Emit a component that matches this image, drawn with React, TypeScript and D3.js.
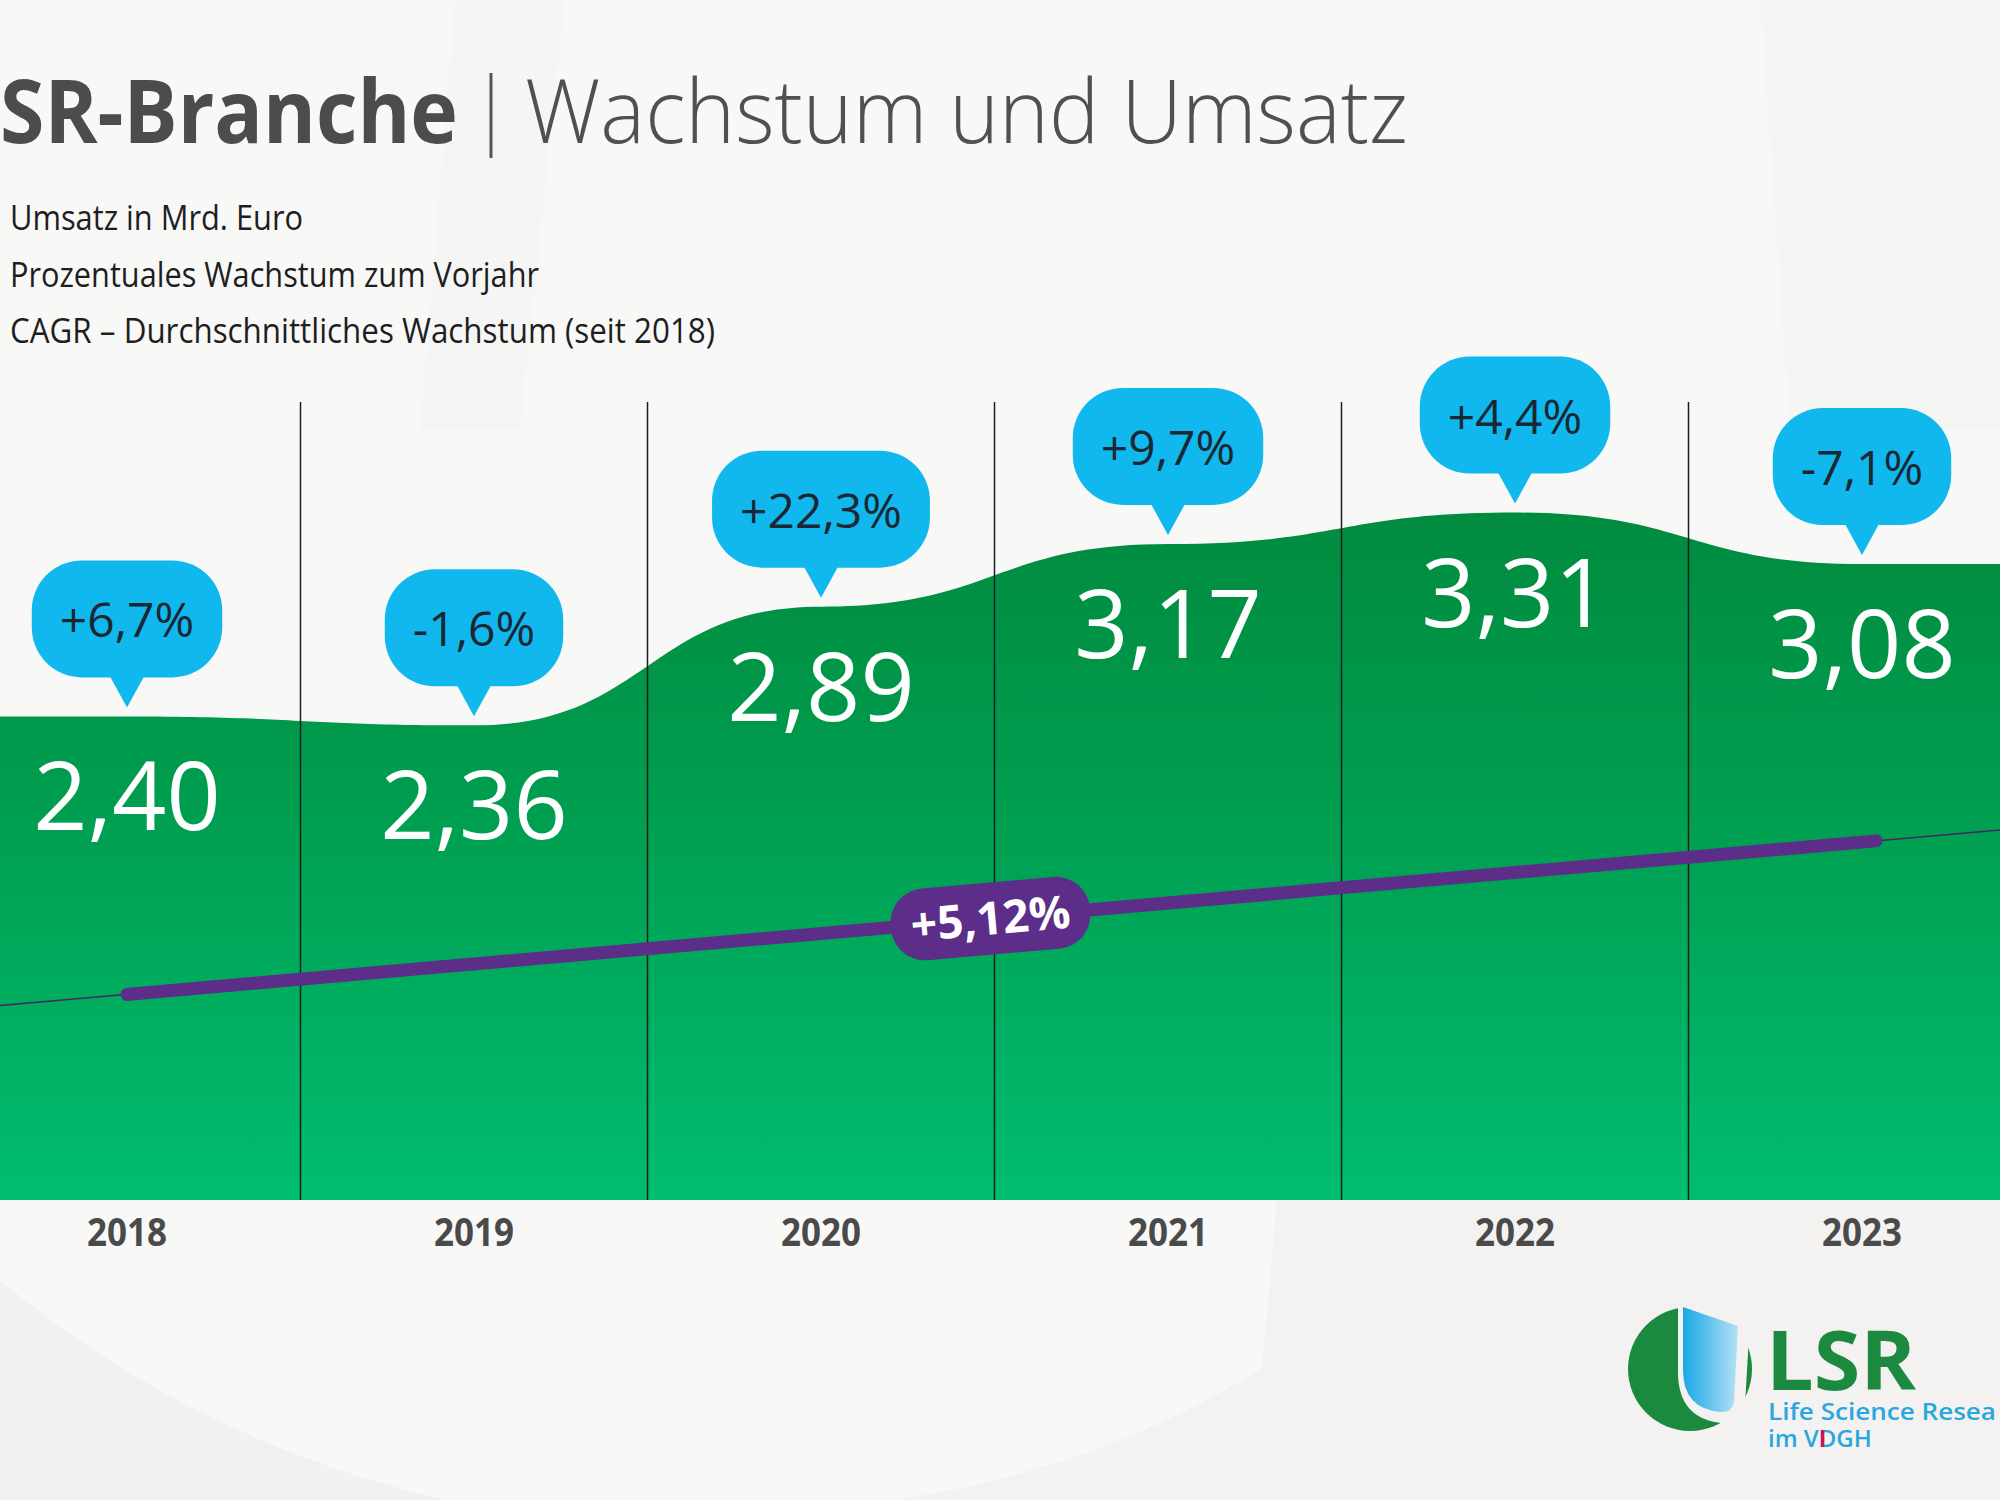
import React from 'react';
import * as d3 from 'd3';

// Revenue of the LSR industry (billion euro) and year-over-year growth
const years = ['2018', '2019', '2020', '2021', '2022', '2023'];
const revenue = [2.4, 2.36, 2.89, 3.17, 3.31, 3.08];
const growthLabels = ['+6,7%', '-1,6%', '+22,3%', '+9,7%', '+4,4%', '-7,1%'];
const cagrLabel = '+5,12%';
const titleBold = 'SR-Branche';
const titleLight = 'Wachstum und Umsatz';
const legendLines = [
  'Umsatz in Mrd. Euro',
  'Prozentuales Wachstum zum Vorjahr',
  'CAGR – Durchschnittliches Wachstum (seit 2018)',
];
const logoLines = ['Life Science Resea', 'im VDGH'];

const W = 2000;
const H = 1500;
const FONT = "'Open Sans', 'Noto Sans', sans-serif";

const de = d3.formatLocale({ decimal: ',', thousands: '.', grouping: [3], currency: ['', ' €'] });
const fmtValue = de.format('.2f');

let measureCtx: CanvasRenderingContext2D | null = null;
function textWidth(s: string, font: string): number {
  if (!measureCtx) measureCtx = document.createElement('canvas').getContext('2d');
  if (!measureCtx) return s.length * 25;
  measureCtx.font = font;
  return measureCtx.measureText(s).width;
}

export default function App() {
  const x = d3.scaleBand<string>().domain(years).range([-46.5, 2035.5]).paddingInner(0).paddingOuter(0);
  const cx = (yr: string) => (x(yr) as number) + x.bandwidth() / 2;
  const y = d3.scaleLinear().domain([2.0, 3.5]).range([806, 470]);
  const baseY = 1200;
  const topY = 402;

  // area outline: flat shoulders out to the band range edges
  const pts: [number, number][] = [
    [x.range()[0], y(revenue[0])],
    ...years.map((yr, i) => [cx(yr), y(revenue[i])] as [number, number]),
    [x.range()[1], y(revenue[revenue.length - 1])],
  ];
  const area = d3
    .area<[number, number]>()
    .x((d) => d[0])
    .y0(baseY)
    .y1((d) => d[1])
    .curve(d3.curveBumpX);

  // CAGR trend from first to last year, drawn lower on the same value scale
  const trendShift = 278;
  const n = revenue.length;
  const cagr = Math.pow(revenue[n - 1] / revenue[0], 1 / (n - 1)) - 1;
  const tStart: [number, number] = [cx(years[0]), y(revenue[0]) + trendShift];
  const tEnd: [number, number] = [cx(years[n - 1]), y(revenue[0] * Math.pow(1 + cagr, n - 1)) + trendShift];
  const slope = (tEnd[1] - tStart[1]) / (tEnd[0] - tStart[0]);
  const lineAt = (px: number) => tStart[1] + (px - tStart[0]) * slope;
  const angle = (Math.atan(slope) * 180) / Math.PI;
  const pillX = (cx(years[2]) + cx(years[3])) / 2 - 4;
  const pillY = lineAt(pillX);

  const bubbleFontSize = 48;
  const bubbleFont = `400 ${bubbleFontSize}px ${FONT}`;

  const logoFont = `600 24px ${FONT}`;
  const dStemX = 1768 + textWidth('im V', logoFont);

  return (
    <svg
      width={W}
      height={H}
      viewBox={`0 0 ${W} ${H}`}
      style={{ position: 'absolute', left: 0, top: 0, display: 'block' }}
      fontFamily={FONT}
    >
      <defs>
        <linearGradient id="areaGrad" gradientUnits="userSpaceOnUse" x1="0" y1="500" x2="0" y2={baseY}>
          <stop offset="0" stopColor="#018a3e" />
          <stop offset="0.45" stopColor="#009e50" />
          <stop offset="1" stopColor="#00bd6f" />
        </linearGradient>
        <linearGradient id="tubeGrad" x1="0" y1="0" x2="1" y2="0">
          <stop offset="0" stopColor="#19a7e6" />
          <stop offset="1" stopColor="#b4e2f5" />
        </linearGradient>
        <mask id="logoCut">
          <rect x="1600" y="1280" width="200" height="200" fill="white" />
          <path
            d="M1683,1300 L1745,1318 L1740,1405 Q1738,1418 1722,1418 Q1683,1414 1683,1372 Z"
            fill="black"
            stroke="black"
            strokeWidth="10"
            strokeLinejoin="round"
          />
        </mask>
      </defs>

      {/* backdrop with soft light shapes */}
      <rect x="0" y="0" width={W} height={H} fill="#f8f8f7" />
      <path d="M455,0 L565,0 L520,430 L420,430 Z" fill="#f4f3f1" opacity="0.6" />
      <path d="M1760,0 L2000,0 L2000,430 L1790,430 Z" fill="#f4f3f1" opacity="0.6" />
      <path d="M0,1280 Q190,1440 446,1500 L0,1500 Z" fill="#f2f1ef" />
      <path d="M1277,1200 L1262,1368 Q1100,1470 893,1500 L2000,1500 L2000,1200 Z" fill="#f3f2f0" />

      {/* title */}
      <text x="0" y="143" fontSize="88" fontWeight="700" fill="#4c4c4c" textLength="458" lengthAdjust="spacingAndGlyphs">
        {titleBold}
      </text>
      <line x1="491" x2="491" y1="73" y2="158" stroke="#555" strokeWidth="3" />
      <text x="525" y="143" fontSize="88" fontWeight="300" fill="#505050" textLength="883" lengthAdjust="spacingAndGlyphs">
        {titleLight}
      </text>

      {/* legend lines */}
      {legendLines.map((t, i) => (
        <text
          key={t}
          x="10"
          y={230 + i * 56.5}
          fontSize="35"
          fill="#1e1e1e"
          textLength={[293, 529, 705][i]}
          lengthAdjust="spacingAndGlyphs"
        >
          {t}
        </text>
      ))}

      {/* revenue area */}
      <path d={area(pts) || ''} fill="url(#areaGrad)" />

      {/* column dividers */}
      {years.slice(1).map((yr) => (
        <line key={yr} x1={x(yr)} x2={x(yr)} y1={topY} y2={baseY} stroke="#1d1d1d" strokeWidth="1.5" />
      ))}

      {/* CAGR trend */}
      <line x1={0} y1={lineAt(0)} x2={W} y2={lineAt(W)} stroke="#3d2a62" strokeWidth="1.5" />
      <line
        x1={tStart[0]}
        y1={tStart[1]}
        x2={tEnd[0] + 14}
        y2={lineAt(tEnd[0] + 14)}
        stroke="#5c2d89"
        strokeWidth="13"
        strokeLinecap="round"
      />
      <g transform={`translate(${pillX},${pillY}) rotate(${angle})`}>
        <rect x={-100} y={-36} width={200} height={72} rx={34} fill="#5c2d89" />
        <text x="0" y="16" textAnchor="middle" fontSize="46" fontWeight="700" fill="#ffffff">
          {cagrLabel}
        </text>
      </g>

      {/* value labels */}
      {years.map((yr, i) => (
        <text key={yr} x={cx(yr)} y={y(revenue[i]) + 114} textAnchor="middle" fontSize="95" fill="#ffffff">
          {fmtValue(revenue[i])}
        </text>
      ))}

      {/* growth bubbles */}
      {years.map((yr, i) => {
        const c = cx(yr);
        const tip = y(revenue[i]) - 9;
        const bottom = tip - 30;
        const top = bottom - 117;
        const w = textWidth(growthLabels[i], bubbleFont) + 56;
        return (
          <g key={yr}>
            <rect x={c - w / 2} y={top} width={w} height={117} rx={50} fill="#10b8ee" />
            <path d={`M${c - 17},${bottom - 1} L${c + 17},${bottom - 1} L${c},${tip} Z`} fill="#10b8ee" />
            <text x={c} y={top + 77} textAnchor="middle" fontSize={bubbleFontSize} fill="#1b2733">
              {growthLabels[i]}
            </text>
          </g>
        );
      })}

      {/* year axis */}
      {years.map((yr) => (
        <text
          key={yr}
          x={cx(yr)}
          y="1246"
          textAnchor="middle"
          fontSize="39"
          fontWeight="700"
          fill="#4a4a4a"
          textLength="80"
          lengthAdjust="spacingAndGlyphs"
        >
          {yr}
        </text>
      ))}

      {/* logo */}
      <g>
        <circle cx="1690" cy="1369" r="62" fill="#1b8a3e" mask="url(#logoCut)" />
        <path
          d="M1683,1307 L1738,1326 L1734,1402 Q1732,1413 1721,1412 Q1683,1409 1683,1370 Z"
          fill="url(#tubeGrad)"
        />
        <text x="1766" y="1390" fontSize="82" fontWeight="700" fill="#1b8a3e" textLength="150" lengthAdjust="spacingAndGlyphs">
          LSR
        </text>
        <text x="1768" y="1420" fontSize="24" fontWeight="600" fill="#2aa7df" textLength="228" lengthAdjust="spacingAndGlyphs">
          {logoLines[0]}
        </text>
        <text x="1768" y="1447" fontSize="24" fontWeight="600" fill="#2aa7df">
          {logoLines[1]}
        </text>
        <rect x={dStemX + 2} y={1430} width={3.5} height={17} fill="#c2185b" />
      </g>
    </svg>
  );
}
